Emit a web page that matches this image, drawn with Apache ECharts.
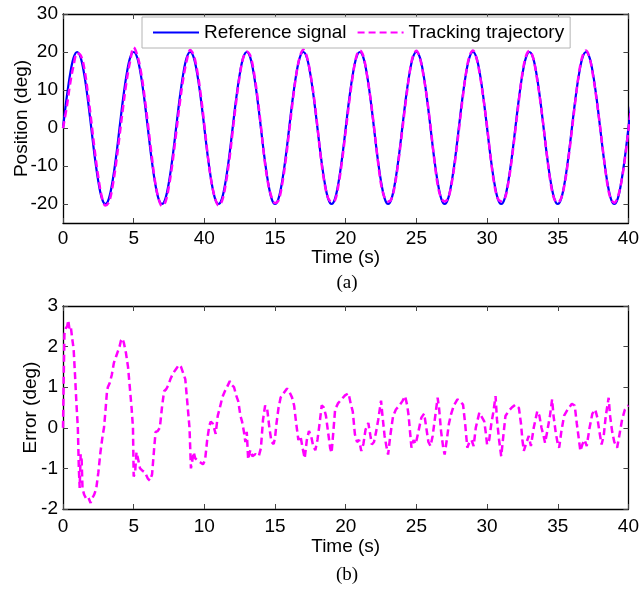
<!DOCTYPE html>
<html>
<head>
<meta charset="utf-8">
<script src="https://cdn.jsdelivr.net/npm/echarts@6/dist/echarts.min.js"></script>
<style>
  html, body { margin: 0; padding: 0; background: #fff; }
  #chart { width: 642px; height: 589px; }
</style>
</head>
<body>
<div id="chart"></div>
<script>
// ---- data: position tracking (sampled every 0.25 s) ----
const POS_STEP = 0.25;
const referenceSignal = [
  0, 7.7, 14.1, 18.5, 20, 18.5, 14.1, 7.7, 0, -7.7, -14.1, -18.5, -20, -18.5, -14.1, -7.7,
  0, 7.7, 14.1, 18.5, 20, 18.5, 14.1, 7.7, 0, -7.7, -14.1, -18.5, -20, -18.5, -14.1, -7.7,
  0, 7.7, 14.1, 18.5, 20, 18.5, 14.1, 7.7, 0, -7.7, -14.1, -18.5, -20, -18.5, -14.1, -7.7,
  0, 7.7, 14.1, 18.5, 20, 18.5, 14.1, 7.7, 0, -7.7, -14.1, -18.5, -20, -18.5, -14.1, -7.7,
  0, 7.7, 14.1, 18.5, 20, 18.5, 14.1, 7.7, 0, -7.7, -14.1, -18.5, -20, -18.5, -14.1, -7.7,
  0, 7.7, 14.1, 18.5, 20, 18.5, 14.1, 7.7, 0, -7.7, -14.1, -18.5, -20, -18.5, -14.1, -7.7,
  0, 7.7, 14.1, 18.5, 20, 18.5, 14.1, 7.7, 0, -7.7, -14.1, -18.5, -20, -18.5, -14.1, -7.7,
  0, 7.7, 14.1, 18.5, 20, 18.5, 14.1, 7.7, 0, -7.7, -14.1, -18.5, -20, -18.5, -14.1, -7.7,
  0, 7.7, 14.1, 18.5, 20, 18.5, 14.1, 7.7, 0, -7.7, -14.1, -18.5, -20, -18.5, -14.1, -7.7,
  0, 7.7, 14.1, 18.5, 20, 18.5, 14.1, 7.7, 0, -7.7, -14.1, -18.5, -20, -18.5, -14.1, -7.7,
  0, 7.7
];
const trackingTrajectory = [
  0, 5.2, 11.6, 16.5, 19.7, 19.15, 15.8, 9.4, 1.8, -6.1, -13.0, -18.2, -20.4, -19.5, -15.5, -9.4,
  -2.0, 5.5, 12.4, 17.6, 21.2, 19.2, 15.1, 8.8, 1.25, -6.5, -13.8, -18.45, -20.5, -19.4, -15.2, -9.0,
  -1.45, 6.2, 12.8, 17.7, 20.5, 19.1, 14.9, 8.6, 0.85, -7.5,
  -14.2, -18.4, -20.35, -19.2, -15.0, -8.8, -1.0, 6.9, 13.7, 18.5,
  20.1, 19.05, 14.8, 8.4, 0.5, -8.15, -14.4, -18.15, -19.75, -19.0,
  -14.9, -8.6, -0.9, 7.0, 14.0, 18.7, 20.6, 18.8, 14.25, 8.2,
  0.3, -8.1, -14.5, -18.4, -19.4, -18.95, -14.7, -8.4, -0.8, 6.9,
  13.7, 18.8, 20.4, 18.9, 14.05, 7.9, 0.35, -7.8, -14.8, -18.3,
  -19.35, -18.55, -14.5, -8.2, -0.65, 7.0, 14.0, 18.85, 20.3, 18.4,
  13.8, 7.8, 0.45, -7.8, -14.85, -18.4, -19.35, -18.45, -14.5, -8.3,
  -0.7, 7.1, 14.2, 18.85, 20.4, 18.4, 13.75, 7.5, 0.4, -7.7,
  -14.6, -18.5, -19.3, -18.6, -14.5, -8.2, -0.6, 7.2, 14.4, 18.9,
  20.3, 18.6, 13.75, 7.5, 0.2, -7.6, -14.55, -18.65, -19.6, -18.4,
  -14.45, -8.2, -0.6, 7.3, 14.4, 18.9, 20.4, 18.5, 13.7, 7.4,
  0.2, -7.5, -14.6, -18.65, -19.65, -18.1, -14.2, -8.15, -0.55,
  7.2
];

// ---- data: tracking error ----
const errTime = [
  0, 0.05, 0.1, 0.2, 0.3, 0.37, 0.45, 0.55, 0.65, 0.75, 0.85, 0.95, 1.05, 1.12, 1.18, 1.25, 1.32, 1.38,
  1.5, 1.65, 1.8, 1.95, 2.05, 2.2, 2.35, 2.5, 2.65, 2.8, 2.9, 3.0, 3.1, 3.17, 3.3, 3.45, 3.6, 3.75, 3.9,
  4.0, 4.1, 4.2, 4.3, 4.45, 4.6, 4.75, 4.85, 4.95, 5.0, 5.1, 5.2, 5.3, 5.45, 5.6, 5.8, 6.0, 6.15, 6.3,
  6.45, 6.55, 6.7, 6.85, 7.0, 7.15, 7.3, 7.45, 7.6, 7.8, 8.0, 8.2, 8.35, 8.5, 8.65, 8.8, 8.95, 9.05,
  9.15, 9.25, 9.35, 9.5, 9.7, 9.9, 10.05, 10.2, 10.35, 10.45, 10.6, 10.8, 10.95, 11.1, 11.27, 11.45,
  11.6, 11.8, 11.95, 12.1, 12.25, 12.4, 12.55, 12.67, 12.8, 12.9, 13.0, 13.1, 13.25, 13.4, 13.6, 13.85,
  14.0, 14.15, 14.3, 14.45, 14.6, 14.75, 14.9, 15.0, 15.1, 15.25, 15.4, 15.6, 15.85, 16.0, 16.2, 16.35,
  16.5, 16.65, 16.8, 16.95, 17.1, 17.25, 17.4, 17.55, 17.7, 17.85, 18.0, 18.15, 18.3, 18.45, 18.6,
  18.75, 18.9, 19.0, 19.1, 19.25, 19.45, 19.7, 19.95, 20.2, 20.35, 20.5, 20.65, 20.8, 20.95, 21.1,
  21.25, 21.4, 21.6, 21.75, 21.85, 22.0, 22.15, 22.3, 22.5, 22.6, 22.75, 22.9, 23.0, 23.15, 23.35,
  23.55, 23.8, 24.0, 24.2, 24.35, 24.45, 24.55, 24.65, 24.8, 24.95, 25.1, 25.35, 25.55, 25.7, 25.85,
  26.0, 26.15, 26.3, 26.5, 26.6, 26.75, 26.9, 27.0, 27.15, 27.3, 27.45, 27.65, 27.9, 28.1, 28.3,
  28.45, 28.6, 28.75, 28.9, 29.05, 29.2, 29.45, 29.65, 29.8, 29.9, 30.0, 30.15, 30.3, 30.45, 30.6,
  30.7, 30.85, 31.0, 31.15, 31.3, 31.5, 31.75, 32.0, 32.25, 32.4, 32.5, 32.6, 32.75, 32.95, 33.1,
  33.3, 33.55, 33.7, 33.85, 34.0, 34.1, 34.25, 34.45, 34.6, 34.7, 34.85, 35.0, 35.1, 35.25, 35.45,
  35.7, 36.0, 36.2, 36.35, 36.5, 36.6, 36.75, 36.9, 37.05, 37.25, 37.45, 37.65, 37.8, 37.95, 38.1,
  38.25, 38.4, 38.6, 38.7, 38.85, 39.0, 39.2, 39.35, 39.55, 39.75, 39.9, 40.0
];
const errValue = [
  0.0, 1.2, 2.3, 2.45, 2.5, 2.65, 2.45, 2.5, 2.2, 1.95, 1.3, 0.6, 0.0, -1.0, -1.48, -0.65, -0.8, -1.5,
  -1.65, -1.75, -1.72, -1.85, -1.75, -1.65, -1.5, -1.1, -0.6, -0.2, 0.0, 0.4, 0.85, 1.0, 1.1, 1.3, 1.6, 1.75, 1.9,
  2.0, 2.15, 2.2, 2.1, 1.85, 1.5, 0.9, 0.5, 0.0, -1.2, -1.1, -0.6, -0.75, -1.0, -1.05, -1.1, -1.25, -1.3, -1.15,
  -0.5, -0.1, -0.08, 0.0, 0.5, 0.9, 0.95, 1.05, 1.2, 1.35, 1.45, 1.55, 1.5, 1.35, 1.2, 0.6, 0.0, -1.0,
  -0.8, -0.6, -0.75, -0.8, -0.85, -0.9, -0.8, -0.3, 0.05, 0.15, 0.1, -0.15, 0.3, 0.5, 0.75, 0.9,
  1.0, 1.15, 1.05, 1.0, 0.8, 0.65, 0.3, 0.15, -0.1, -0.35, -0.1, -0.78, -0.55, -0.7, -0.65, -0.7,
  -0.5, 0.2, 0.55, 0.45, 0.0, -0.35, -0.4, -0.25, 0.1, 0.5, 0.75, 0.85, 0.97, 0.9, 0.75, 0.55,
  0.1, -0.3, -0.2, -0.5, -0.75, -0.3, -0.08, -0.2, -0.45, -0.55, -0.3, 0.1, 0.55, 0.5, 0.3,
  -0.1, -0.5, -0.62, -0.2, 0.45, 0.6, 0.7, 0.8, 0.85, 0.6, 0.4, -0.16, -0.35, -0.3, -0.57,
  -0.4, -0.05, 0.12, -0.2, -0.41, -0.35, -0.1, 0.2, 0.67, 0.3, -0.2, -0.5, -0.66, -0.2, 0.29,
  0.45, 0.55, 0.65, 0.78, 0.55, 0.3, -0.1, -0.49, -0.3, -0.4, -0.16, 0.25, 0.35, 0.0, -0.35,
  -0.45, -0.2, 0.2, 0.74, 0.5, -0.1, -0.5, -0.66, -0.3, 0.1, 0.33, 0.55, 0.7, 0.65, 0.57,
  0.1, -0.49, -0.35, -0.3, -0.45, 0.0, 0.37, 0.25, 0.16, -0.1, -0.41, -0.3, 0.1, 0.4, 0.78,
  0.2, -0.3, -0.7, -0.2, 0.29, 0.4, 0.5, 0.57, 0.49, 0.1, -0.3, -0.57, -0.4, -0.2, -0.45,
  0.0, 0.41, 0.3, 0.0, -0.2, -0.37, -0.1, 0.3, 0.7, 0.3, -0.1, -0.4, -0.49, -0.1, 0.3,
  0.45, 0.59, 0.55, 0.1, -0.3, -0.57, -0.4, -0.3, -0.45, 0.0, 0.35, 0.45, 0.25, -0.1, -0.41,
  -0.2, 0.3, 0.74, 0.3, -0.1, -0.35, -0.49, -0.2, 0.2, 0.45, 0.53, 0.55
];

// ---- tick labels ----
const timeTicks = [0, 5, 10, 15, 20, 25, 30, 35, 40];
const timeTickLabelsA = ['0', '5', '40', '15', '20', '25', '30', '35', '40'];
const timeTickLabelsB = ['0', '5', '10', '15', '20', '25', '30', '35', '40'];
const positionTicks = [-20, -10, 0, 10, 20, 30];
const errorTicks = [-2, -1, 0, 1, 2, 3];

const FONT = '"Liberation Sans", Arial, Helvetica, sans-serif';
const SERIF = '"Liberation Serif", "Times New Roman", serif';
const BLUE = '#0000ff';
const MAGENTA = '#ff00ff';

const chart = echarts.init(document.getElementById('chart'), null, { renderer: 'canvas' });

const posData = (arr) => arr.map((v, i) => [i * POS_STEP, v]);
const errData = errTime.map((t, i) => [t, errValue[i]]);

const axisLine = { show: true, onZero: false, lineStyle: { color: '#000', width: 1.3 } };
const tickIn = (vals) => ({ show: true, inside: true, length: 5, customValues: vals, lineStyle: { color: '#444', width: 1 } });
const nameStyle = { fontFamily: FONT, fontSize: 19, color: '#000' };

function timeAxis(gridIndex, position, labels, margin, nameGap, showName) {
  return {
    type: 'value', gridIndex, position, min: 0, max: 40,
    axisLine, axisTick: tickIn(timeTicks),
    axisLabel: showName ? {
      show: true, customValues: timeTicks, margin,
      fontFamily: FONT, fontSize: 19, color: '#000',
      formatter: (v) => labels[timeTicks.indexOf(v)] ?? ''
    } : { show: false },
    splitLine: { show: false },
    name: showName ? 'Time (s)' : '',
    nameLocation: 'middle', nameGap, nameMoveOverlap: false,
    nameTextStyle: nameStyle
  };
}

function valueAxis(gridIndex, position, min, max, ticks, name, nameGap, showLabels) {
  return {
    type: 'value', gridIndex, position, min, max,
    axisLine, axisTick: tickIn(ticks),
    axisLabel: showLabels ? {
      show: true, customValues: ticks, margin: 5,
      fontFamily: FONT, fontSize: 19, color: '#000'
    } : { show: false },
    splitLine: { show: false },
    name: showLabels ? name : '',
    nameLocation: 'middle', nameGap, nameMoveOverlap: false,
    nameTextStyle: nameStyle
  };
}

chart.setOption({
  animation: false,
  backgroundColor: '#fff',
  grid: [
    { left: 63, top: 14, width: 569, height: 209, containLabel: false },
    { left: 63, top: 306, width: 569, height: 203, containLabel: false }
  ],
  xAxis: [
    timeAxis(0, 'bottom', timeTickLabelsA, 6, 25, true),
    timeAxis(0, 'top', timeTickLabelsA, 6, 25, false),
    timeAxis(1, 'bottom', timeTickLabelsB, 8, 28, true),
    timeAxis(1, 'top', timeTickLabelsB, 8, 28, false)
  ],
  yAxis: [
    valueAxis(0, 'left', -25, 30, positionTicks, 'Position (deg)', 32, true),
    valueAxis(0, 'right', -25, 30, positionTicks, '', 0, false),
    valueAxis(1, 'left', -2, 3, errorTicks, 'Error (deg)', 23, true),
    valueAxis(1, 'right', -2, 3, errorTicks, '', 0, false)
  ],
  legend: {
    left: 142, top: 17,
    padding: [6, 6, 6, 10],
    itemGap: 10, itemWidth: 46, itemHeight: 14,
    backgroundColor: '#fff', borderColor: '#b4b4b4', borderWidth: 1, borderRadius: 0,
    itemStyle: { opacity: 0, borderWidth: 0 },
    textStyle: { fontFamily: FONT, fontSize: 19, color: '#000' },
    data: ['Reference signal', 'Tracking trajectory']
  },
  series: [
    {
      name: 'Reference signal', type: 'line', xAxisIndex: 0, yAxisIndex: 0,
      data: posData(referenceSignal), showSymbol: false, symbol: 'none', smooth: 0.35,
      lineStyle: { color: BLUE, width: 2.2 }, itemStyle: { color: BLUE }, z: 2
    },
    {
      name: 'Tracking trajectory', type: 'line', xAxisIndex: 0, yAxisIndex: 0,
      data: posData(trackingTrajectory), showSymbol: false, symbol: 'none', smooth: 0.35,
      lineStyle: { color: MAGENTA, width: 2.5, type: [7, 4] }, itemStyle: { color: MAGENTA }, z: 3
    },
    {
      name: 'Error', type: 'line', xAxisIndex: 2, yAxisIndex: 2,
      data: errData, showSymbol: false, symbol: 'none',
      lineStyle: { color: MAGENTA, width: 2.5, type: [7, 4] }, itemStyle: { color: MAGENTA }
    }
  ],
  graphic: [
    { type: 'text', x: 347, y: 283, style: { text: '(a)', font: '19px ' + SERIF, fill: '#000', align: 'center', verticalAlign: 'middle' } },
    { type: 'text', x: 347, y: 575, style: { text: '(b)', font: '19px ' + SERIF, fill: '#000', align: 'center', verticalAlign: 'middle' } }
  ]
});
</script>
</body>
</html>
